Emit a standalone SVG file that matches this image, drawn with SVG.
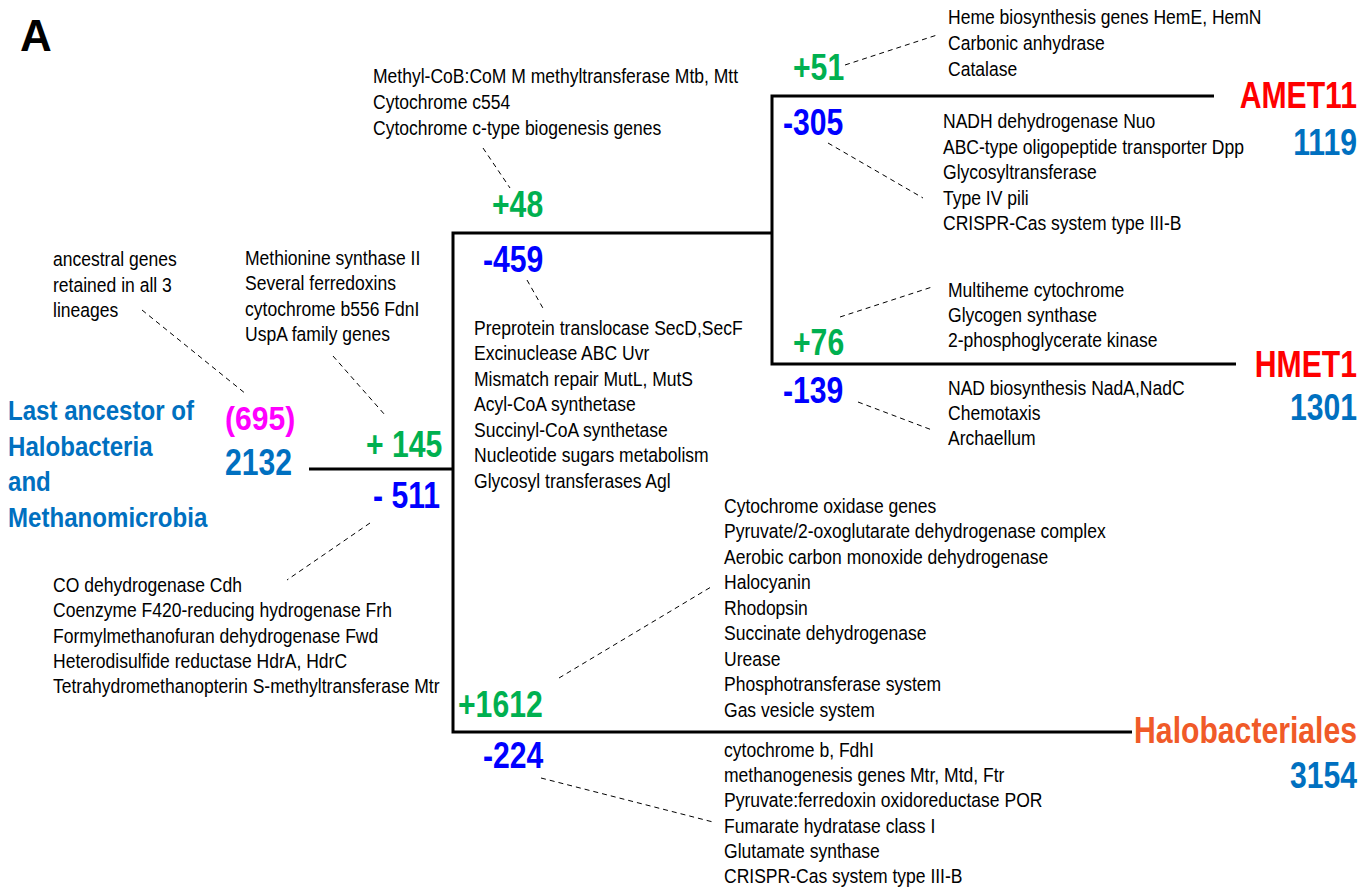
<svg xmlns="http://www.w3.org/2000/svg" width="1372" height="892" viewBox="0 0 1372 892">
<style>
.t{font-family:"Liberation Sans",Arial,sans-serif;font-size:20.5px;fill:#000}
.n{font-family:"Liberation Sans",Arial,sans-serif;font-size:37px;font-weight:bold}
.g{fill:#00B050}.b{fill:#0000FF}.lb{fill:#0070C0}.r{fill:#FF0000}.o{fill:#F05A28}.m{fill:#FF00FF}
.e{text-anchor:end}
.tree{fill:none;stroke:#000;stroke-width:3}
.d{fill:none;stroke:#000;stroke-width:1;stroke-dasharray:5,4}
</style>
<rect width="1372" height="892" fill="#fff"/>
<text x="20" y="51" style="font-family:'Liberation Sans',Arial,sans-serif;font-size:44px;font-weight:bold">A</text>

<g id="connectors">
<path class="tree" d="M309,469 H453"/>
<path class="tree" d="M772,233 H453 V732 H1132"/>
<path class="tree" d="M1214,96 H772 V364 H1236"/>
<path class="d" d="M845,65 L937,35"/>
<path class="d" d="M483,148 L510,188"/>
<path class="d" d="M828,143 L923,198"/>
<path class="d" d="M840,317 L932,287"/>
<path class="d" d="M858,402 L932,430"/>
<path class="d" d="M527,280 L544,310"/>
<path class="d" d="M142,310 L246,394"/>
<path class="d" d="M333,356 L385,415"/>
<path class="d" d="M370,523 L287,580"/>
<path class="d" d="M559,678 L711,587"/>
<path class="d" d="M541,778 L713,822"/>
</g>

<g id="root">
<text transform="translate(8,420) scale(0.86,1)" style="font-family:'Liberation Sans',Arial,sans-serif;font-size:28px;font-weight:bold" class="lb"><tspan x="0" y="0">Last ancestor of</tspan><tspan x="0" y="36">Halobacteria</tspan><tspan x="0" y="71">and</tspan><tspan x="0" y="107">Methanomicrobia</tspan></text>
<text transform="translate(225,430) scale(0.885,1)" style="font-family:'Liberation Sans',Arial,sans-serif;font-size:34px;font-weight:bold" class="m">(695)</text>
<text class="n lb" transform="translate(225,475) scale(0.815,1)">2132</text>
<text class="t" transform="translate(53,266) scale(0.855,1)"><tspan x="0" y="0">ancestral genes</tspan><tspan x="0" y="26">retained in all 3</tspan><tspan x="0" y="51">lineages</tspan></text>
</g>

<g id="branch-root">
<text class="n g" transform="translate(366,457) scale(0.815,1)">+ 145</text>
<text class="n b" transform="translate(373,508) scale(0.815,1)">- 511</text>
<text class="t" transform="translate(245,265) scale(0.855,1)"><tspan x="0" y="0">Methionine synthase II</tspan><tspan x="0" y="25.5">Several ferredoxins</tspan><tspan x="0" y="51">cytochrome b556 FdnI</tspan><tspan x="0" y="76">UspA family genes</tspan></text>
<text class="t" transform="translate(53,592) scale(0.855,1)"><tspan x="0" y="0">CO dehydrogenase Cdh</tspan><tspan x="0" y="25.3">Coenzyme F420-reducing hydrogenase Frh</tspan><tspan x="0" y="50.6">Formylmethanofuran dehydrogenase Fwd</tspan><tspan x="0" y="75.9">Heterodisulfide reductase HdrA, HdrC</tspan><tspan x="0" y="101.2">Tetrahydromethanopterin S-methyltransferase Mtr</tspan></text>
</g>

<g id="branch-upper">
<text class="n g" transform="translate(492,217) scale(0.815,1)">+48</text>
<text class="n b" transform="translate(483,272) scale(0.815,1)">-459</text>
<text class="t" transform="translate(373,83) scale(0.855,1)"><tspan x="0" y="0">Methyl-CoB:CoM M methyltransferase Mtb, Mtt</tspan><tspan x="0" y="26">Cytochrome c554</tspan><tspan x="0" y="52">Cytochrome c-type biogenesis genes</tspan></text>
<text class="t" transform="translate(474,335) scale(0.855,1)"><tspan x="0" y="0">Preprotein translocase SecD,SecF</tspan><tspan x="0" y="25.5">Excinuclease ABC Uvr</tspan><tspan x="0" y="51">Mismatch repair MutL, MutS</tspan><tspan x="0" y="76.5">Acyl-CoA synthetase</tspan><tspan x="0" y="102">Succinyl-CoA synthetase</tspan><tspan x="0" y="127.5">Nucleotide sugars metabolism</tspan><tspan x="0" y="153">Glycosyl transferases Agl</tspan></text>
</g>

<g id="AMET11">
<text class="n g" transform="translate(793,80) scale(0.815,1)">+51</text>
<text class="n b" transform="translate(783,135) scale(0.815,1)">-305</text>
<text class="n r e" transform="translate(1357,108) scale(0.815,1)">AMET11</text>
<text class="n lb e" transform="translate(1357,155) scale(0.815,1)">1119</text>
<text class="t" transform="translate(948,24) scale(0.855,1)"><tspan x="0" y="0">Heme biosynthesis genes HemE, HemN</tspan><tspan x="0" y="26">Carbonic anhydrase</tspan><tspan x="0" y="52">Catalase</tspan></text>
<text class="t" transform="translate(943,128) scale(0.855,1)"><tspan x="0" y="0">NADH dehydrogenase Nuo</tspan><tspan x="0" y="25.6">ABC-type oligopeptide transporter Dpp</tspan><tspan x="0" y="51.2">Glycosyltransferase</tspan><tspan x="0" y="76.8">Type IV pili</tspan><tspan x="0" y="102.4">CRISPR-Cas system type III-B</tspan></text>
</g>

<g id="HMET1">
<text class="n g" transform="translate(793,355) scale(0.815,1)">+76</text>
<text class="n b" transform="translate(783,403) scale(0.815,1)">-139</text>
<text class="n r e" transform="translate(1357,377) scale(0.815,1)">HMET1</text>
<text class="n lb e" transform="translate(1357,420) scale(0.815,1)">1301</text>
<text class="t" transform="translate(948,297) scale(0.855,1)"><tspan x="0" y="0">Multiheme cytochrome</tspan><tspan x="0" y="25">Glycogen synthase</tspan><tspan x="0" y="50">2-phosphoglycerate kinase</tspan></text>
<text class="t" transform="translate(948,395) scale(0.855,1)"><tspan x="0" y="0">NAD biosynthesis NadA,NadC</tspan><tspan x="0" y="25">Chemotaxis</tspan><tspan x="0" y="50">Archaellum</tspan></text>
</g>

<g id="Halobacteriales">
<text class="n g" transform="translate(458,717) scale(0.815,1)">+1612</text>
<text class="n b" transform="translate(483,768) scale(0.815,1)">-224</text>
<text class="n o e" transform="translate(1357,743) scale(0.815,1)">Halobacteriales</text>
<text class="n lb e" transform="translate(1357,788) scale(0.815,1)">3154</text>
<text class="t" transform="translate(724,513) scale(0.855,1)"><tspan x="0" y="0">Cytochrome oxidase genes</tspan><tspan x="0" y="25.5">Pyruvate/2-oxoglutarate dehydrogenase complex</tspan><tspan x="0" y="51">Aerobic carbon monoxide dehydrogenase</tspan><tspan x="0" y="76.5">Halocyanin</tspan><tspan x="0" y="102">Rhodopsin</tspan><tspan x="0" y="127.5">Succinate dehydrogenase</tspan><tspan x="0" y="153">Urease</tspan><tspan x="0" y="178.5">Phosphotransferase system</tspan><tspan x="0" y="204">Gas vesicle system</tspan></text>
<text class="t" transform="translate(724,757) scale(0.855,1)"><tspan x="0" y="0">cytochrome b, FdhI</tspan><tspan x="0" y="25.2">methanogenesis genes Mtr, Mtd, Ftr</tspan><tspan x="0" y="50.4">Pyruvate:ferredoxin oxidoreductase POR</tspan><tspan x="0" y="75.6">Fumarate hydratase class I</tspan><tspan x="0" y="100.8">Glutamate synthase</tspan><tspan x="0" y="126">CRISPR-Cas system type III-B</tspan></text>
</g>
</svg>
